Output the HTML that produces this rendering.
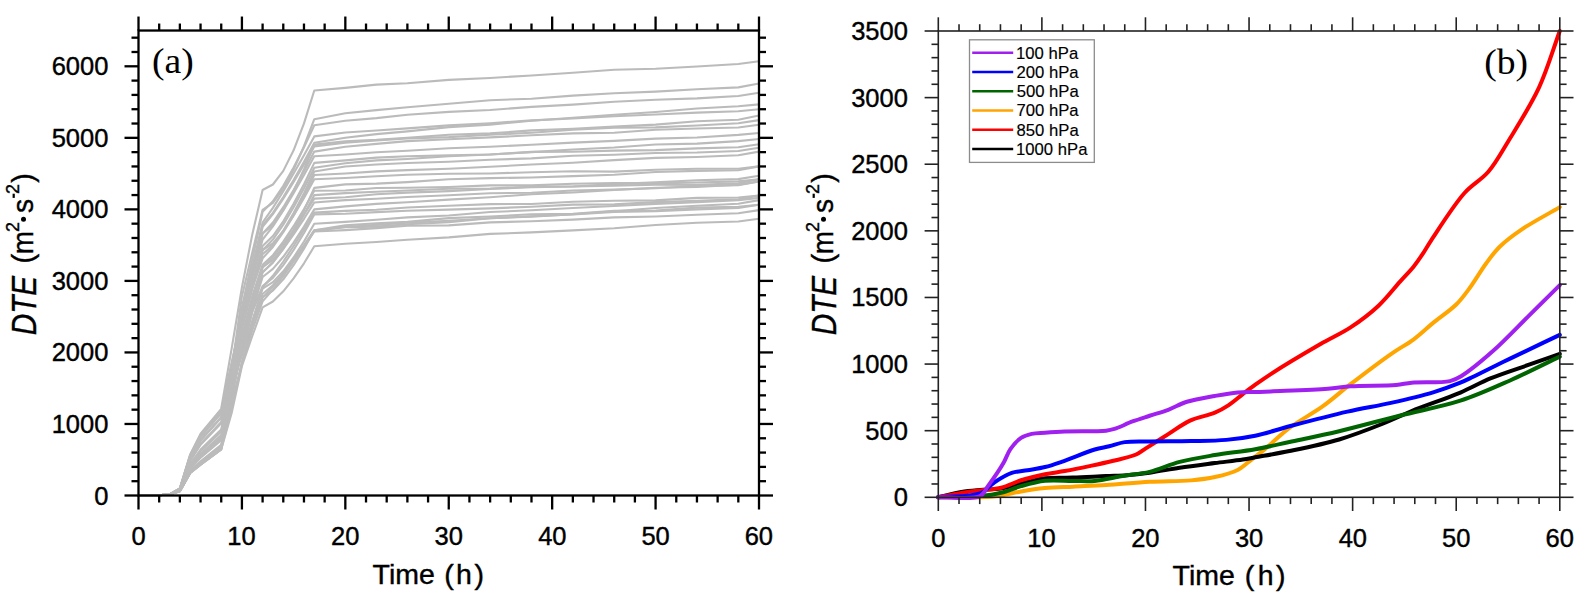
<!DOCTYPE html><html><head><meta charset="utf-8"><style>html,body{margin:0;padding:0;background:#fff;overflow:hidden}svg{display:block;}text{font-family:"Liberation Sans",sans-serif;fill:#000;stroke:#000;stroke-width:0.4px}.sr{font-family:"Liberation Serif",serif;stroke-width:0}</style></head><body>
<svg width="1594" height="605" viewBox="0 0 1594 605">
<rect width="1594" height="605" fill="#fff"/>
<g fill="none" stroke="#bbbbbb" stroke-width="2.1" stroke-linejoin="round">
<path d="M138.5,495.5 L159.2,495.3 L169.5,494.4 L179.9,488.3 L190.2,454.4 L200.6,433.6 L221.2,408.8 L231.6,348.9 L241.9,287.5 L252.3,234.4 L262.6,190.0 L272.9,184.5 L283.3,170.9 L293.6,150.3 L304.0,123.4 L314.3,90.5 L345.3,87.9 L376.4,84.6 L407.4,83.2 L448.8,79.9 L490.1,78.0 L531.5,75.5 L572.9,72.7 L614.2,69.8 L655.6,68.8 L697.0,66.5 L738.3,64.0 L759.0,61.3"/>
<path d="M138.5,495.5 L159.2,495.3 L169.5,494.4 L179.9,490.0 L190.2,464.9 L200.6,451.3 L221.2,431.8 L231.6,370.6 L241.9,296.4 L252.3,252.5 L262.6,209.8 L272.9,202.8 L283.3,188.6 L293.6,169.5 L304.0,146.2 L314.3,119.2 L345.3,113.2 L376.4,110.1 L407.4,107.3 L448.8,103.8 L490.1,100.2 L531.5,98.7 L572.9,95.6 L614.2,93.3 L655.6,91.6 L697.0,89.3 L738.3,87.4 L759.0,83.5"/>
<path d="M138.5,495.5 L159.2,495.3 L169.5,494.4 L179.9,491.2 L190.2,472.8 L200.6,464.5 L221.2,449.1 L231.6,383.0 L241.9,307.4 L252.3,259.4 L262.6,211.8 L272.9,201.3 L283.3,185.8 L293.6,167.5 L304.0,147.2 L314.3,125.2 L345.3,120.7 L376.4,118.1 L407.4,114.7 L448.8,111.9 L490.1,110.0 L531.5,106.9 L572.9,104.6 L614.2,101.7 L655.6,99.8 L697.0,98.4 L738.3,96.0 L759.0,92.8"/>
<path d="M138.5,495.5 L159.2,495.3 L169.5,494.4 L179.9,488.4 L190.2,455.0 L200.6,434.7 L221.2,410.2 L231.6,362.7 L241.9,316.6 L252.3,269.2 L262.6,225.2 L272.9,212.8 L283.3,197.1 L293.6,180.0 L304.0,161.8 L314.3,142.8 L345.3,137.7 L376.4,134.1 L407.4,131.4 L448.8,127.1 L490.1,124.6 L531.5,120.7 L572.9,117.7 L614.2,114.7 L655.6,112.0 L697.0,108.5 L738.3,106.3 L759.0,104.4"/>
<path d="M138.5,495.5 L159.2,495.3 L169.5,494.4 L179.9,488.6 L190.2,456.2 L200.6,436.7 L221.2,412.8 L231.6,364.8 L241.9,314.5 L252.3,268.3 L262.6,233.5 L272.9,224.9 L283.3,210.0 L293.6,191.1 L304.0,169.2 L314.3,144.6 L345.3,141.2 L376.4,139.9 L407.4,137.7 L448.8,134.7 L490.1,133.4 L531.5,130.4 L572.9,128.7 L614.2,126.6 L655.6,124.6 L697.0,121.3 L738.3,119.8 L759.0,115.5"/>
<path d="M138.5,495.5 L159.2,495.3 L169.5,494.4 L179.9,491.1 L190.2,472.5 L200.6,464.0 L221.2,448.3 L231.6,387.8 L241.9,317.4 L252.3,271.7 L262.6,226.9 L272.9,214.1 L283.3,198.6 L293.6,181.9 L304.0,164.5 L314.3,146.4 L345.3,142.6 L376.4,140.5 L407.4,138.4 L448.8,137.1 L490.1,134.7 L531.5,132.7 L572.9,129.8 L614.2,127.8 L655.6,127.4 L697.0,125.5 L738.3,123.3 L759.0,120.1"/>
<path d="M138.5,495.5 L159.2,495.3 L169.5,494.4 L179.9,491.0 L190.2,471.6 L200.6,462.5 L221.2,446.4 L231.6,387.9 L241.9,320.4 L252.3,274.3 L262.6,233.8 L272.9,222.5 L283.3,207.2 L293.6,190.0 L304.0,171.3 L314.3,151.6 L345.3,146.8 L376.4,143.9 L407.4,141.1 L448.8,139.2 L490.1,137.4 L531.5,135.3 L572.9,133.4 L614.2,132.8 L655.6,129.8 L697.0,128.5 L738.3,127.5 L759.0,124.7"/>
<path d="M138.5,495.5 L159.2,495.3 L169.5,494.4 L179.9,489.0 L190.2,458.4 L200.6,440.3 L221.2,417.5 L231.6,370.7 L241.9,318.1 L252.3,278.1 L262.6,239.5 L272.9,226.4 L283.3,210.5 L293.6,193.2 L304.0,175.1 L314.3,156.2 L345.3,154.5 L376.4,152.3 L407.4,150.7 L448.8,148.2 L490.1,146.7 L531.5,144.8 L572.9,142.6 L614.2,140.9 L655.6,138.6 L697.0,137.5 L738.3,134.9 L759.0,133.0"/>
<path d="M138.5,495.5 L159.2,495.3 L169.5,494.4 L179.9,489.0 L190.2,458.4 L200.6,440.3 L221.2,417.5 L231.6,373.5 L241.9,326.1 L252.3,287.7 L262.6,250.2 L272.9,239.6 L283.3,224.6 L293.6,207.2 L304.0,188.2 L314.3,167.8 L345.3,163.2 L376.4,160.4 L407.4,159.0 L448.8,156.3 L490.1,154.5 L531.5,152.1 L572.9,149.5 L614.2,147.5 L655.6,144.5 L697.0,143.6 L738.3,141.1 L759.0,139.0"/>
<path d="M138.5,495.5 L159.2,495.3 L169.5,494.4 L179.9,491.2 L190.2,472.9 L200.6,464.7 L221.2,449.3 L231.6,394.6 L241.9,325.2 L252.3,286.9 L262.6,254.2 L272.9,245.1 L283.3,230.7 L293.6,213.1 L304.0,193.3 L314.3,171.5 L345.3,166.5 L376.4,164.5 L407.4,163.0 L448.8,161.7 L490.1,159.7 L531.5,158.4 L572.9,155.8 L614.2,154.8 L655.6,153.0 L697.0,152.5 L738.3,151.0 L759.0,147.8"/>
<path d="M138.5,495.5 L159.2,495.3 L169.5,494.4 L179.9,491.0 L190.2,471.7 L200.6,462.7 L221.2,446.6 L231.6,393.8 L241.9,328.4 L252.3,285.6 L262.6,250.0 L272.9,243.3 L283.3,231.1 L293.6,215.2 L304.0,196.4 L314.3,175.0 L345.3,173.5 L376.4,171.4 L407.4,170.1 L448.8,168.7 L490.1,166.8 L531.5,164.5 L572.9,162.7 L614.2,160.1 L655.6,157.9 L697.0,157.0 L738.3,155.2 L759.0,151.6"/>
<path d="M138.5,495.5 L159.2,495.3 L169.5,494.4 L179.9,488.7 L190.2,456.4 L200.6,437.1 L221.2,413.3 L231.6,373.7 L241.9,329.2 L252.3,288.6 L262.6,258.3 L272.9,247.0 L283.3,232.2 L293.6,215.7 L304.0,198.0 L314.3,179.3 L345.3,178.0 L376.4,176.2 L407.4,174.8 L448.8,173.8 L490.1,173.5 L531.5,172.3 L572.9,171.2 L614.2,171.6 L655.6,169.8 L697.0,168.7 L738.3,168.7 L759.0,166.4"/>
<path d="M138.5,495.5 L159.2,495.3 L169.5,494.4 L179.9,489.4 L190.2,461.0 L200.6,444.7 L221.2,423.3 L231.6,382.2 L241.9,336.0 L252.3,298.1 L262.6,267.1 L272.9,259.9 L283.3,247.0 L293.6,230.2 L304.0,210.4 L314.3,187.9 L345.3,184.4 L376.4,183.6 L407.4,182.1 L448.8,179.3 L490.1,178.1 L531.5,177.5 L572.9,176.1 L614.2,174.7 L655.6,172.0 L697.0,170.9 L738.3,170.2 L759.0,166.4"/>
<path d="M138.5,495.5 L159.2,495.3 L169.5,494.4 L179.9,491.1 L190.2,472.4 L200.6,463.8 L221.2,448.1 L231.6,398.7 L241.9,336.9 L252.3,295.9 L262.6,264.7 L272.9,255.2 L283.3,241.7 L293.6,226.2 L304.0,209.1 L314.3,190.8 L345.3,190.5 L376.4,188.0 L407.4,187.7 L448.8,187.0 L490.1,185.4 L531.5,185.4 L572.9,183.8 L614.2,183.1 L655.6,183.4 L697.0,182.5 L738.3,181.4 L759.0,179.3"/>
<path d="M138.5,495.5 L159.2,495.3 L169.5,494.4 L179.9,490.9 L190.2,470.9 L200.6,461.3 L221.2,444.9 L231.6,397.7 L241.9,344.3 L252.3,301.9 L262.6,272.0 L272.9,262.7 L283.3,248.8 L293.6,232.6 L304.0,214.6 L314.3,195.1 L345.3,193.1 L376.4,191.7 L407.4,190.5 L448.8,188.8 L490.1,188.5 L531.5,186.7 L572.9,186.5 L614.2,185.6 L655.6,184.8 L697.0,184.9 L738.3,183.3 L759.0,179.3"/>
<path d="M138.5,495.5 L159.2,495.3 L169.5,494.4 L179.9,490.6 L190.2,468.7 L200.6,457.6 L221.2,440.1 L231.6,396.5 L241.9,348.9 L252.3,311.4 L262.6,272.6 L272.9,262.2 L283.3,248.9 L293.6,234.3 L304.0,218.8 L314.3,202.5 L345.3,200.1 L376.4,198.8 L407.4,197.0 L448.8,195.2 L490.1,193.2 L531.5,192.8 L572.9,190.5 L614.2,189.6 L655.6,188.2 L697.0,186.0 L738.3,185.1 L759.0,181.5"/>
<path d="M138.5,495.5 L159.2,495.3 L169.5,494.4 L179.9,490.4 L190.2,467.5 L200.6,455.6 L221.2,437.4 L231.6,396.5 L241.9,349.4 L252.3,309.8 L262.6,277.0 L272.9,268.9 L283.3,256.8 L293.6,242.5 L304.0,226.6 L314.3,209.4 L345.3,206.4 L376.4,203.9 L407.4,202.2 L448.8,199.6 L490.1,197.3 L531.5,194.2 L572.9,192.5 L614.2,190.0 L655.6,187.8 L697.0,187.0 L738.3,184.6 L759.0,181.5"/>
<path d="M138.5,495.5 L159.2,495.3 L169.5,494.4 L179.9,490.2 L190.2,466.4 L200.6,453.8 L221.2,435.1 L231.6,395.8 L241.9,347.9 L252.3,311.2 L262.6,287.3 L272.9,275.8 L283.3,261.5 L293.6,246.0 L304.0,229.6 L314.3,212.6 L345.3,210.9 L376.4,209.8 L407.4,207.5 L448.8,205.7 L490.1,204.1 L531.5,204.0 L572.9,201.8 L614.2,200.7 L655.6,200.4 L697.0,197.9 L738.3,197.5 L759.0,195.5"/>
<path d="M138.5,495.5 L159.2,495.3 L169.5,494.4 L179.9,488.5 L190.2,455.4 L200.6,435.4 L221.2,411.1 L231.6,381.0 L241.9,355.1 L252.3,311.5 L262.6,286.1 L272.9,277.9 L283.3,265.2 L293.6,250.0 L304.0,233.0 L314.3,214.4 L345.3,213.7 L376.4,212.1 L407.4,210.8 L448.8,209.6 L490.1,208.4 L531.5,206.7 L572.9,204.6 L614.2,204.4 L655.6,202.1 L697.0,200.9 L738.3,199.4 L759.0,195.5"/>
<path d="M138.5,495.5 L159.2,495.3 L169.5,494.4 L179.9,491.2 L190.2,473.0 L200.6,464.7 L221.2,449.3 L231.6,409.2 L241.9,362.9 L252.3,324.4 L262.6,297.6 L272.9,286.7 L283.3,273.7 L293.6,259.8 L304.0,245.2 L314.3,230.2 L345.3,227.1 L376.4,226.6 L407.4,224.3 L448.8,222.1 L490.1,218.2 L531.5,216.6 L572.9,214.3 L614.2,211.3 L655.6,208.0 L697.0,205.7 L738.3,203.8 L759.0,200.1"/>
<path d="M138.5,495.5 L159.2,495.3 L169.5,494.4 L179.9,491.0 L190.2,471.3 L200.6,462.0 L221.2,445.8 L231.6,407.0 L241.9,364.4 L252.3,322.0 L262.6,297.1 L272.9,290.6 L283.3,279.4 L293.6,265.2 L304.0,248.7 L314.3,230.2 L345.3,225.4 L376.4,223.3 L407.4,221.9 L448.8,218.1 L490.1,216.5 L531.5,214.3 L572.9,213.7 L614.2,210.7 L655.6,210.5 L697.0,207.6 L738.3,206.7 L759.0,204.8"/>
<path d="M138.5,495.5 L159.2,495.3 L169.5,494.4 L179.9,490.5 L190.2,468.5 L200.6,457.2 L221.2,439.6 L231.6,403.2 L241.9,363.1 L252.3,325.4 L262.6,294.0 L272.9,285.3 L283.3,273.6 L293.6,260.4 L304.0,246.0 L314.3,230.8 L345.3,227.0 L376.4,224.9 L407.4,222.8 L448.8,220.7 L490.1,218.3 L531.5,216.3 L572.9,214.5 L614.2,212.0 L655.6,211.3 L697.0,209.4 L738.3,207.9 L759.0,204.8"/>
<path d="M138.5,495.5 L159.2,495.3 L169.5,494.4 L179.9,491.1 L190.2,472.1 L200.6,463.3 L221.2,447.5 L231.6,408.4 L241.9,363.5 L252.3,330.2 L262.6,301.4 L272.9,289.6 L283.3,276.1 L293.6,261.7 L304.0,246.8 L314.3,231.5 L345.3,230.1 L376.4,228.1 L407.4,225.8 L448.8,225.4 L490.1,222.4 L531.5,221.3 L572.9,219.6 L614.2,217.4 L655.6,216.5 L697.0,214.8 L738.3,213.2 L759.0,210.1"/>
<path d="M138.5,495.5 L159.2,495.3 L169.5,494.4 L179.9,491.2 L190.2,473.0 L200.6,464.7 L221.2,449.4 L231.6,413.2 L241.9,366.2 L252.3,336.0 L262.6,307.4 L272.9,301.5 L283.3,291.3 L293.6,278.3 L304.0,263.3 L314.3,246.3 L345.3,243.7 L376.4,242.0 L407.4,239.8 L448.8,237.4 L490.1,233.9 L531.5,232.4 L572.9,230.4 L614.2,228.3 L655.6,225.0 L697.0,222.8 L738.3,221.5 L759.0,218.7"/>
<path d="M138.5,495.5 L159.2,495.3 L169.5,494.4 L179.9,489.8 L190.2,463.9 L200.6,449.6 L221.2,429.6 L231.6,380.0 L241.9,326.2 L252.3,283.7 L262.6,245.9 L272.9,236.1 L283.3,221.3 L293.6,203.8 L304.0,184.2 L314.3,162.9 L345.3,160.4 L376.4,157.6 L407.4,156.2 L448.8,155.4 L490.1,154.5 L531.5,151.9 L572.9,151.8 L614.2,150.6 L655.6,150.1 L697.0,148.4 L738.3,147.2 L759.0,144.3"/>
<path d="M138.5,495.5 L159.2,495.3 L169.5,494.4 L179.9,490.5 L190.2,468.1 L200.6,456.6 L221.2,438.8 L231.6,379.3 L241.9,309.7 L252.3,266.8 L262.6,222.5 L272.9,207.9 L283.3,191.2 L293.6,173.5 L304.0,155.2 L314.3,136.4 L345.3,132.5 L376.4,130.5 L407.4,128.4 L448.8,125.4 L490.1,123.2 L531.5,120.4 L572.9,118.5 L614.2,116.2 L655.6,114.5 L697.0,112.6 L738.3,111.2 L759.0,109.2"/>
<path d="M138.5,495.5 L159.2,495.3 L169.5,494.4 L179.9,488.9 L190.2,458.2 L200.6,440.1 L221.2,417.2 L231.6,381.0 L241.9,345.0 L252.3,306.3 L262.6,267.6 L272.9,257.2 L283.3,244.1 L293.6,229.8 L304.0,214.5 L314.3,198.6 L345.3,197.3 L376.4,194.3 L407.4,192.6 L448.8,191.1 L490.1,189.0 L531.5,187.1 L572.9,186.5 L614.2,184.1 L655.6,182.4 L697.0,180.2 L738.3,179.1 L759.0,175.7"/>
<path d="M138.5,495.5 L159.2,495.3 L169.5,494.4 L179.9,489.3 L190.2,460.4 L200.6,443.7 L221.2,421.9 L231.6,390.2 L241.9,355.0 L252.3,320.5 L262.6,288.6 L272.9,282.2 L283.3,271.3 L293.6,257.5 L304.0,241.5 L314.3,223.7 L345.3,221.9 L376.4,219.7 L407.4,217.4 L448.8,215.5 L490.1,212.0 L531.5,210.3 L572.9,208.0 L614.2,206.0 L655.6,203.9 L697.0,202.2 L738.3,200.3 L759.0,197.9"/>
</g>
<g stroke="#000" stroke-width="2.3" fill="none" stroke-linecap="butt">
<rect x="138.5" y="30.53" width="620.50" height="464.97"/>
<line x1="138.50" y1="495.5" x2="138.50" y2="509.5"/>
<line x1="138.50" y1="30.53" x2="138.50" y2="16.53"/>
<line x1="159.18" y1="495.5" x2="159.18" y2="502.5"/>
<line x1="159.18" y1="30.53" x2="159.18" y2="23.53"/>
<line x1="179.87" y1="495.5" x2="179.87" y2="502.5"/>
<line x1="179.87" y1="30.53" x2="179.87" y2="23.53"/>
<line x1="200.55" y1="495.5" x2="200.55" y2="502.5"/>
<line x1="200.55" y1="30.53" x2="200.55" y2="23.53"/>
<line x1="221.23" y1="495.5" x2="221.23" y2="502.5"/>
<line x1="221.23" y1="30.53" x2="221.23" y2="23.53"/>
<line x1="241.92" y1="495.5" x2="241.92" y2="509.5"/>
<line x1="241.92" y1="30.53" x2="241.92" y2="16.53"/>
<line x1="262.60" y1="495.5" x2="262.60" y2="502.5"/>
<line x1="262.60" y1="30.53" x2="262.60" y2="23.53"/>
<line x1="283.28" y1="495.5" x2="283.28" y2="502.5"/>
<line x1="283.28" y1="30.53" x2="283.28" y2="23.53"/>
<line x1="303.97" y1="495.5" x2="303.97" y2="502.5"/>
<line x1="303.97" y1="30.53" x2="303.97" y2="23.53"/>
<line x1="324.65" y1="495.5" x2="324.65" y2="502.5"/>
<line x1="324.65" y1="30.53" x2="324.65" y2="23.53"/>
<line x1="345.33" y1="495.5" x2="345.33" y2="509.5"/>
<line x1="345.33" y1="30.53" x2="345.33" y2="16.53"/>
<line x1="366.02" y1="495.5" x2="366.02" y2="502.5"/>
<line x1="366.02" y1="30.53" x2="366.02" y2="23.53"/>
<line x1="386.70" y1="495.5" x2="386.70" y2="502.5"/>
<line x1="386.70" y1="30.53" x2="386.70" y2="23.53"/>
<line x1="407.38" y1="495.5" x2="407.38" y2="502.5"/>
<line x1="407.38" y1="30.53" x2="407.38" y2="23.53"/>
<line x1="428.07" y1="495.5" x2="428.07" y2="502.5"/>
<line x1="428.07" y1="30.53" x2="428.07" y2="23.53"/>
<line x1="448.75" y1="495.5" x2="448.75" y2="509.5"/>
<line x1="448.75" y1="30.53" x2="448.75" y2="16.53"/>
<line x1="469.43" y1="495.5" x2="469.43" y2="502.5"/>
<line x1="469.43" y1="30.53" x2="469.43" y2="23.53"/>
<line x1="490.12" y1="495.5" x2="490.12" y2="502.5"/>
<line x1="490.12" y1="30.53" x2="490.12" y2="23.53"/>
<line x1="510.80" y1="495.5" x2="510.80" y2="502.5"/>
<line x1="510.80" y1="30.53" x2="510.80" y2="23.53"/>
<line x1="531.48" y1="495.5" x2="531.48" y2="502.5"/>
<line x1="531.48" y1="30.53" x2="531.48" y2="23.53"/>
<line x1="552.17" y1="495.5" x2="552.17" y2="509.5"/>
<line x1="552.17" y1="30.53" x2="552.17" y2="16.53"/>
<line x1="572.85" y1="495.5" x2="572.85" y2="502.5"/>
<line x1="572.85" y1="30.53" x2="572.85" y2="23.53"/>
<line x1="593.53" y1="495.5" x2="593.53" y2="502.5"/>
<line x1="593.53" y1="30.53" x2="593.53" y2="23.53"/>
<line x1="614.22" y1="495.5" x2="614.22" y2="502.5"/>
<line x1="614.22" y1="30.53" x2="614.22" y2="23.53"/>
<line x1="634.90" y1="495.5" x2="634.90" y2="502.5"/>
<line x1="634.90" y1="30.53" x2="634.90" y2="23.53"/>
<line x1="655.58" y1="495.5" x2="655.58" y2="509.5"/>
<line x1="655.58" y1="30.53" x2="655.58" y2="16.53"/>
<line x1="676.27" y1="495.5" x2="676.27" y2="502.5"/>
<line x1="676.27" y1="30.53" x2="676.27" y2="23.53"/>
<line x1="696.95" y1="495.5" x2="696.95" y2="502.5"/>
<line x1="696.95" y1="30.53" x2="696.95" y2="23.53"/>
<line x1="717.63" y1="495.5" x2="717.63" y2="502.5"/>
<line x1="717.63" y1="30.53" x2="717.63" y2="23.53"/>
<line x1="738.32" y1="495.5" x2="738.32" y2="502.5"/>
<line x1="738.32" y1="30.53" x2="738.32" y2="23.53"/>
<line x1="759.00" y1="495.5" x2="759.00" y2="509.5"/>
<line x1="759.00" y1="30.53" x2="759.00" y2="16.53"/>
<line x1="138.5" y1="495.50" x2="124.5" y2="495.50"/>
<line x1="759.00" y1="495.50" x2="773.00" y2="495.50"/>
<line x1="138.5" y1="481.19" x2="131.5" y2="481.19"/>
<line x1="759.00" y1="481.19" x2="766.00" y2="481.19"/>
<line x1="138.5" y1="466.89" x2="131.5" y2="466.89"/>
<line x1="759.00" y1="466.89" x2="766.00" y2="466.89"/>
<line x1="138.5" y1="452.58" x2="131.5" y2="452.58"/>
<line x1="759.00" y1="452.58" x2="766.00" y2="452.58"/>
<line x1="138.5" y1="438.27" x2="131.5" y2="438.27"/>
<line x1="759.00" y1="438.27" x2="766.00" y2="438.27"/>
<line x1="138.5" y1="423.97" x2="124.5" y2="423.97"/>
<line x1="759.00" y1="423.97" x2="773.00" y2="423.97"/>
<line x1="138.5" y1="409.66" x2="131.5" y2="409.66"/>
<line x1="759.00" y1="409.66" x2="766.00" y2="409.66"/>
<line x1="138.5" y1="395.35" x2="131.5" y2="395.35"/>
<line x1="759.00" y1="395.35" x2="766.00" y2="395.35"/>
<line x1="138.5" y1="381.05" x2="131.5" y2="381.05"/>
<line x1="759.00" y1="381.05" x2="766.00" y2="381.05"/>
<line x1="138.5" y1="366.74" x2="131.5" y2="366.74"/>
<line x1="759.00" y1="366.74" x2="766.00" y2="366.74"/>
<line x1="138.5" y1="352.43" x2="124.5" y2="352.43"/>
<line x1="759.00" y1="352.43" x2="773.00" y2="352.43"/>
<line x1="138.5" y1="338.13" x2="131.5" y2="338.13"/>
<line x1="759.00" y1="338.13" x2="766.00" y2="338.13"/>
<line x1="138.5" y1="323.82" x2="131.5" y2="323.82"/>
<line x1="759.00" y1="323.82" x2="766.00" y2="323.82"/>
<line x1="138.5" y1="309.51" x2="131.5" y2="309.51"/>
<line x1="759.00" y1="309.51" x2="766.00" y2="309.51"/>
<line x1="138.5" y1="295.21" x2="131.5" y2="295.21"/>
<line x1="759.00" y1="295.21" x2="766.00" y2="295.21"/>
<line x1="138.5" y1="280.90" x2="124.5" y2="280.90"/>
<line x1="759.00" y1="280.90" x2="773.00" y2="280.90"/>
<line x1="138.5" y1="266.59" x2="131.5" y2="266.59"/>
<line x1="759.00" y1="266.59" x2="766.00" y2="266.59"/>
<line x1="138.5" y1="252.29" x2="131.5" y2="252.29"/>
<line x1="759.00" y1="252.29" x2="766.00" y2="252.29"/>
<line x1="138.5" y1="237.98" x2="131.5" y2="237.98"/>
<line x1="759.00" y1="237.98" x2="766.00" y2="237.98"/>
<line x1="138.5" y1="223.67" x2="131.5" y2="223.67"/>
<line x1="759.00" y1="223.67" x2="766.00" y2="223.67"/>
<line x1="138.5" y1="209.37" x2="124.5" y2="209.37"/>
<line x1="759.00" y1="209.37" x2="773.00" y2="209.37"/>
<line x1="138.5" y1="195.06" x2="131.5" y2="195.06"/>
<line x1="759.00" y1="195.06" x2="766.00" y2="195.06"/>
<line x1="138.5" y1="180.75" x2="131.5" y2="180.75"/>
<line x1="759.00" y1="180.75" x2="766.00" y2="180.75"/>
<line x1="138.5" y1="166.45" x2="131.5" y2="166.45"/>
<line x1="759.00" y1="166.45" x2="766.00" y2="166.45"/>
<line x1="138.5" y1="152.14" x2="131.5" y2="152.14"/>
<line x1="759.00" y1="152.14" x2="766.00" y2="152.14"/>
<line x1="138.5" y1="137.83" x2="124.5" y2="137.83"/>
<line x1="759.00" y1="137.83" x2="773.00" y2="137.83"/>
<line x1="138.5" y1="123.53" x2="131.5" y2="123.53"/>
<line x1="759.00" y1="123.53" x2="766.00" y2="123.53"/>
<line x1="138.5" y1="109.22" x2="131.5" y2="109.22"/>
<line x1="759.00" y1="109.22" x2="766.00" y2="109.22"/>
<line x1="138.5" y1="94.91" x2="131.5" y2="94.91"/>
<line x1="759.00" y1="94.91" x2="766.00" y2="94.91"/>
<line x1="138.5" y1="80.61" x2="131.5" y2="80.61"/>
<line x1="759.00" y1="80.61" x2="766.00" y2="80.61"/>
<line x1="138.5" y1="66.30" x2="124.5" y2="66.30"/>
<line x1="759.00" y1="66.30" x2="773.00" y2="66.30"/>
<line x1="138.5" y1="51.99" x2="131.5" y2="51.99"/>
<line x1="759.00" y1="51.99" x2="766.00" y2="51.99"/>
<line x1="138.5" y1="37.69" x2="131.5" y2="37.69"/>
<line x1="759.00" y1="37.69" x2="766.00" y2="37.69"/>
</g>
<text x="94.21" y="504.50" font-size="25.5" text-anchor="start">0</text>
<text x="51.67" y="432.97" font-size="25.5" text-anchor="start">1000</text>
<text x="51.67" y="361.43" font-size="25.5" text-anchor="start">2000</text>
<text x="51.67" y="289.90" font-size="25.5" text-anchor="start">3000</text>
<text x="51.67" y="218.37" font-size="25.5" text-anchor="start">4000</text>
<text x="51.67" y="146.83" font-size="25.5" text-anchor="start">5000</text>
<text x="51.67" y="75.30" font-size="25.5" text-anchor="start">6000</text>
<text x="131.41" y="545.30" font-size="25.5" text-anchor="start">0</text>
<text x="227.26" y="545.30" font-size="25.5" text-anchor="start">10</text>
<text x="331.01" y="545.30" font-size="25.5" text-anchor="start">20</text>
<text x="434.58" y="545.30" font-size="25.5" text-anchor="start">30</text>
<text x="538.19" y="545.30" font-size="25.5" text-anchor="start">40</text>
<text x="641.39" y="545.30" font-size="25.5" text-anchor="start">50</text>
<text x="744.67" y="545.30" font-size="25.5" text-anchor="start">60</text>
<text x="372.56" y="583.80" font-size="28.5" text-anchor="start">Time</text>
<text x="444.33" y="583.80" font-size="28.5" text-anchor="start">(</text>
<text x="455.92" y="583.80" font-size="28.5" text-anchor="start">h</text>
<text x="474.38" y="583.80" font-size="28.5" text-anchor="start">)</text>
<text transform="translate(152.05,73.00) scale(1.055,1)" font-size="35.6" text-anchor="start" class="sr">(a)</text>
<g transform="translate(0,0) rotate(-90)">
<text transform="translate(-335.31,36.00) scale(0.83,1)" font-size="35.8" text-anchor="start" font-style="italic">DTE</text>
<text x="-263.50" y="32.70" font-size="29" text-anchor="start">(</text>
<text transform="translate(-254.25,32.70) scale(0.96,1)" font-size="29" text-anchor="start">m</text>
<text x="-231.91" y="19.00" font-size="18" text-anchor="start">2</text>
<text transform="translate(-212.98,32.70) scale(0.97,1)" font-size="29" text-anchor="start">s</text>
<text x="-194.01" y="19.00" font-size="18" text-anchor="start">2</text>
<text x="-182.77" y="32.70" font-size="29" text-anchor="start">)</text>
</g>
<g transform="translate(0,0)"><circle cx="23.5" cy="219.3" r="2.5" fill="#000"/><rect x="12.6" y="193.7" width="2.2" height="4.2" fill="#000"/></g>
<defs><clipPath id="cb"><rect x="930" y="20" width="640" height="485"/></clipPath></defs>
<g fill="none" stroke-width="4" stroke-linejoin="round" stroke-linecap="round" clip-path="url(#cb)">
<path d="M938.30,497.30 C952.21,497.30 968.48,497.81 980.04,497.30 C988.28,496.94 994.27,496.43 1001.18,495.43 C1007.93,494.46 1014.11,492.62 1021.06,491.44 C1028.65,490.15 1036.69,488.90 1044.99,488.11 C1053.93,487.25 1063.24,487.13 1072.96,486.64 C1083.54,486.11 1094.31,485.76 1106.11,485.04 C1119.63,484.22 1135.28,482.63 1149.61,481.85 C1163.58,481.09 1179.15,481.42 1191.04,480.38 C1200.10,479.59 1207.08,478.79 1214.87,477.05 C1222.62,475.32 1231.16,473.31 1237.66,469.99 C1243.33,467.09 1247.53,462.62 1252.16,459.06 C1256.48,455.75 1259.79,453.28 1264.59,449.34 C1271.51,443.65 1280.31,434.74 1289.45,427.89 C1299.47,420.38 1312.19,413.92 1322.59,406.44 C1332.50,399.32 1340.32,392.08 1350.56,384.19 C1362.73,374.82 1379.29,362.20 1390.96,354.08 C1399.53,348.12 1406.59,344.61 1413.75,339.29 C1420.72,334.11 1426.58,328.25 1433.43,322.64 C1440.70,316.67 1449.89,310.77 1456.22,304.52 C1461.63,299.17 1465.11,294.18 1469.68,288.00 C1475.09,280.68 1480.85,270.53 1486.26,263.22 C1490.83,257.03 1494.35,251.96 1499.72,246.70 C1505.83,240.70 1512.98,235.43 1521.47,229.64 C1532.25,222.30 1547.02,214.63 1559.80,207.13" stroke="#ffa500"/>
<path d="M938.30,497.30 C946.03,495.52 954.17,493.20 961.50,491.97 C968.00,490.88 973.66,490.52 980.04,489.97 C986.85,489.39 994.29,489.72 1001.18,488.64 C1007.96,487.57 1014.11,485.24 1021.06,483.58 C1028.66,481.77 1036.65,479.27 1044.99,478.25 C1053.90,477.16 1063.24,477.93 1072.96,477.58 C1083.54,477.20 1096.35,476.41 1106.11,475.98 C1113.82,475.65 1119.76,475.71 1126.82,475.18 C1134.25,474.63 1141.51,473.77 1149.61,472.65 C1158.95,471.37 1169.23,469.27 1179.65,467.72 C1190.91,466.05 1203.80,464.48 1214.87,463.06 C1224.72,461.80 1235.39,460.73 1242.84,459.60 C1247.82,458.83 1250.10,458.28 1255.26,457.33 C1263.84,455.77 1277.02,453.65 1289.45,451.07 C1304.51,447.94 1323.28,444.18 1339.17,439.48 C1354.29,435.00 1369.71,428.92 1382.67,423.76 C1393.39,419.49 1400.70,415.58 1411.68,411.10 C1425.75,405.36 1446.18,398.60 1460.36,392.58 C1471.68,387.78 1479.59,382.91 1490.40,378.46 C1502.52,373.47 1517.52,368.82 1529.76,364.47 C1540.45,360.68 1549.79,357.37 1559.80,353.81" stroke="#000000"/>
<path d="M938.30,497.30 C952.21,496.90 968.50,497.17 980.04,496.10 C988.30,495.33 994.31,494.45 1001.18,492.77 C1007.98,491.11 1014.07,488.05 1021.06,486.11 C1028.62,484.01 1036.65,481.68 1044.99,480.78 C1053.90,479.82 1064.22,480.89 1072.96,480.91 C1080.66,480.93 1087.04,481.58 1094.71,480.91 C1103.48,480.15 1113.44,477.51 1122.68,475.98 C1131.73,474.49 1140.48,474.05 1149.61,471.85 C1159.45,469.48 1169.14,464.61 1179.65,461.86 C1190.83,458.94 1202.70,457.12 1214.87,455.07 C1227.85,452.87 1242.40,451.49 1255.26,449.20 C1267.17,447.09 1276.99,444.67 1289.45,442.01 C1304.48,438.80 1321.78,435.34 1339.17,431.22 C1358.53,426.63 1379.98,420.61 1400.28,415.50 C1420.38,410.44 1441.49,406.84 1460.36,400.71 C1477.94,395.00 1493.62,387.75 1510.08,380.46 C1526.77,373.07 1543.23,364.56 1559.80,356.61" stroke="#006400"/>
<path d="M938.30,497.30 C946.03,495.88 954.19,494.23 961.50,493.04 C968.02,491.97 973.66,491.23 980.04,490.37 C986.85,489.45 994.33,489.40 1001.18,487.71 C1008.01,486.02 1014.06,482.43 1021.06,480.25 C1028.61,477.89 1037.37,475.82 1044.99,474.25 C1051.84,472.84 1057.74,472.30 1064.67,471.05 C1072.49,469.64 1081.43,467.83 1089.53,466.12 C1097.30,464.49 1104.66,462.96 1112.32,461.06 C1120.20,459.11 1130.17,457.16 1136.14,454.53 C1140.13,452.78 1141.68,451.07 1145.47,448.67 C1151.40,444.92 1160.73,438.87 1168.25,434.15 C1175.57,429.55 1182.28,424.26 1190.01,420.69 C1197.81,417.09 1207.96,415.66 1214.87,412.70 C1220.16,410.43 1223.88,408.29 1228.33,405.37 C1233.21,402.17 1238.17,397.62 1242.84,394.05 C1247.12,390.77 1250.86,387.89 1255.26,384.72 C1260.12,381.24 1264.08,378.39 1270.80,374.06 C1282.61,366.46 1305.96,352.51 1320.52,344.09 C1331.72,337.61 1340.96,333.77 1350.56,327.43 C1360.31,321.00 1370.11,313.58 1378.53,305.72 C1386.62,298.17 1393.89,288.46 1400.28,281.34 C1405.30,275.75 1409.91,271.16 1413.75,266.41 C1416.97,262.43 1419.26,259.08 1422.03,254.96 C1425.13,250.36 1427.18,246.33 1431.36,240.04 C1438.91,228.66 1453.67,205.13 1464.50,193.01 C1472.57,183.98 1481.16,180.16 1488.33,171.82 C1496.15,162.73 1501.69,152.04 1509.04,139.98 C1518.34,124.75 1530.61,105.56 1539.08,87.36 C1547.52,69.23 1552.89,49.79 1559.80,31.00" stroke="#ff0000"/>
<path d="M938.30,497.30 C952.21,496.01 970.10,497.35 980.04,493.44 C986.61,490.85 989.36,485.62 994.55,482.25 C999.90,478.76 1005.96,474.91 1011.74,472.92 C1016.98,471.11 1022.19,471.21 1027.59,470.25 C1033.26,469.26 1039.30,468.47 1044.99,467.06 C1050.63,465.66 1055.13,464.07 1061.56,461.86 C1070.75,458.71 1085.84,452.09 1094.71,449.47 C1100.46,447.77 1104.31,447.47 1109.21,446.27 C1114.32,445.03 1118.91,442.99 1124.75,442.14 C1132.01,441.10 1140.27,441.65 1149.61,441.48 C1161.67,441.26 1177.79,441.37 1191.04,441.08 C1203.26,440.81 1215.12,440.86 1226.26,439.88 C1236.42,438.98 1245.20,437.85 1255.26,435.75 C1266.51,433.41 1277.32,429.50 1290.48,426.02 C1307.18,421.61 1329.70,415.67 1347.45,411.63 C1362.89,408.13 1376.67,406.05 1390.96,402.84 C1404.97,399.69 1420.01,396.29 1432.39,392.58 C1442.71,389.49 1452.78,385.81 1460.36,382.72 C1465.72,380.54 1468.27,379.12 1473.83,376.46 C1483.00,372.07 1497.02,364.94 1510.08,358.61 C1525.33,351.22 1543.23,342.80 1559.80,334.89" stroke="#0000ff"/>
<path d="M938.30,497.30 C952.21,496.90 972.03,500.13 980.04,496.10 C984.47,493.88 985.23,489.71 987.92,486.11 C990.94,482.05 994.45,477.12 997.24,472.92 C999.70,469.22 1001.75,466.06 1003.87,462.26 C1006.16,458.15 1007.58,453.09 1010.39,449.07 C1013.28,444.95 1017.20,440.44 1021.06,437.88 C1024.36,435.69 1027.84,434.75 1031.63,433.88 C1035.76,432.93 1040.10,433.05 1044.99,432.68 C1050.92,432.24 1056.90,431.80 1064.67,431.49 C1075.94,431.03 1097.60,431.65 1106.11,430.69 C1109.95,430.25 1111.15,429.95 1114.39,428.95 C1119.32,427.44 1126.53,423.73 1132.52,421.49 C1138.26,419.35 1143.78,417.68 1149.61,415.76 C1155.68,413.77 1162.09,412.07 1168.25,409.77 C1174.53,407.42 1179.94,403.97 1186.90,401.78 C1195.17,399.17 1206.00,397.51 1214.87,395.91 C1222.83,394.47 1230.53,393.07 1237.66,392.45 C1243.88,391.91 1249.58,392.24 1255.26,392.05 C1260.61,391.87 1264.00,391.68 1270.80,391.38 C1283.83,390.81 1313.07,389.99 1327.77,388.85 C1337.09,388.13 1341.65,386.94 1350.56,386.32 C1363.13,385.44 1384.96,385.96 1396.14,384.99 C1402.70,384.42 1405.33,383.32 1411.68,382.72 C1421.60,381.80 1441.12,383.20 1450.00,381.12 C1455.07,379.94 1456.85,378.81 1461.40,376.06 C1469.64,371.07 1482.74,360.14 1493.51,350.62 C1505.51,340.00 1518.25,326.27 1529.76,314.91 C1540.25,304.56 1549.79,295.10 1559.80,285.20" stroke="#a020f0"/>
</g>
<g stroke="#222" stroke-width="1.6" fill="none" stroke-linecap="butt">
<rect x="938.3" y="31.00" width="621.50" height="466.30"/>
<line x1="938.30" y1="497.3" x2="938.30" y2="511.0"/>
<line x1="938.30" y1="31.00" x2="938.30" y2="17.30"/>
<line x1="959.02" y1="497.3" x2="959.02" y2="504.1"/>
<line x1="959.02" y1="31.00" x2="959.02" y2="24.20"/>
<line x1="979.73" y1="497.3" x2="979.73" y2="504.1"/>
<line x1="979.73" y1="31.00" x2="979.73" y2="24.20"/>
<line x1="1000.45" y1="497.3" x2="1000.45" y2="504.1"/>
<line x1="1000.45" y1="31.00" x2="1000.45" y2="24.20"/>
<line x1="1021.17" y1="497.3" x2="1021.17" y2="504.1"/>
<line x1="1021.17" y1="31.00" x2="1021.17" y2="24.20"/>
<line x1="1041.88" y1="497.3" x2="1041.88" y2="511.0"/>
<line x1="1041.88" y1="31.00" x2="1041.88" y2="17.30"/>
<line x1="1062.60" y1="497.3" x2="1062.60" y2="504.1"/>
<line x1="1062.60" y1="31.00" x2="1062.60" y2="24.20"/>
<line x1="1083.32" y1="497.3" x2="1083.32" y2="504.1"/>
<line x1="1083.32" y1="31.00" x2="1083.32" y2="24.20"/>
<line x1="1104.03" y1="497.3" x2="1104.03" y2="504.1"/>
<line x1="1104.03" y1="31.00" x2="1104.03" y2="24.20"/>
<line x1="1124.75" y1="497.3" x2="1124.75" y2="504.1"/>
<line x1="1124.75" y1="31.00" x2="1124.75" y2="24.20"/>
<line x1="1145.47" y1="497.3" x2="1145.47" y2="511.0"/>
<line x1="1145.47" y1="31.00" x2="1145.47" y2="17.30"/>
<line x1="1166.18" y1="497.3" x2="1166.18" y2="504.1"/>
<line x1="1166.18" y1="31.00" x2="1166.18" y2="24.20"/>
<line x1="1186.90" y1="497.3" x2="1186.90" y2="504.1"/>
<line x1="1186.90" y1="31.00" x2="1186.90" y2="24.20"/>
<line x1="1207.62" y1="497.3" x2="1207.62" y2="504.1"/>
<line x1="1207.62" y1="31.00" x2="1207.62" y2="24.20"/>
<line x1="1228.33" y1="497.3" x2="1228.33" y2="504.1"/>
<line x1="1228.33" y1="31.00" x2="1228.33" y2="24.20"/>
<line x1="1249.05" y1="497.3" x2="1249.05" y2="511.0"/>
<line x1="1249.05" y1="31.00" x2="1249.05" y2="17.30"/>
<line x1="1269.77" y1="497.3" x2="1269.77" y2="504.1"/>
<line x1="1269.77" y1="31.00" x2="1269.77" y2="24.20"/>
<line x1="1290.48" y1="497.3" x2="1290.48" y2="504.1"/>
<line x1="1290.48" y1="31.00" x2="1290.48" y2="24.20"/>
<line x1="1311.20" y1="497.3" x2="1311.20" y2="504.1"/>
<line x1="1311.20" y1="31.00" x2="1311.20" y2="24.20"/>
<line x1="1331.92" y1="497.3" x2="1331.92" y2="504.1"/>
<line x1="1331.92" y1="31.00" x2="1331.92" y2="24.20"/>
<line x1="1352.63" y1="497.3" x2="1352.63" y2="511.0"/>
<line x1="1352.63" y1="31.00" x2="1352.63" y2="17.30"/>
<line x1="1373.35" y1="497.3" x2="1373.35" y2="504.1"/>
<line x1="1373.35" y1="31.00" x2="1373.35" y2="24.20"/>
<line x1="1394.07" y1="497.3" x2="1394.07" y2="504.1"/>
<line x1="1394.07" y1="31.00" x2="1394.07" y2="24.20"/>
<line x1="1414.78" y1="497.3" x2="1414.78" y2="504.1"/>
<line x1="1414.78" y1="31.00" x2="1414.78" y2="24.20"/>
<line x1="1435.50" y1="497.3" x2="1435.50" y2="504.1"/>
<line x1="1435.50" y1="31.00" x2="1435.50" y2="24.20"/>
<line x1="1456.22" y1="497.3" x2="1456.22" y2="511.0"/>
<line x1="1456.22" y1="31.00" x2="1456.22" y2="17.30"/>
<line x1="1476.93" y1="497.3" x2="1476.93" y2="504.1"/>
<line x1="1476.93" y1="31.00" x2="1476.93" y2="24.20"/>
<line x1="1497.65" y1="497.3" x2="1497.65" y2="504.1"/>
<line x1="1497.65" y1="31.00" x2="1497.65" y2="24.20"/>
<line x1="1518.37" y1="497.3" x2="1518.37" y2="504.1"/>
<line x1="1518.37" y1="31.00" x2="1518.37" y2="24.20"/>
<line x1="1539.08" y1="497.3" x2="1539.08" y2="504.1"/>
<line x1="1539.08" y1="31.00" x2="1539.08" y2="24.20"/>
<line x1="1559.80" y1="497.3" x2="1559.80" y2="511.0"/>
<line x1="1559.80" y1="31.00" x2="1559.80" y2="17.30"/>
<line x1="938.3" y1="497.30" x2="924.5999999999999" y2="497.30"/>
<line x1="1559.80" y1="497.30" x2="1573.50" y2="497.30"/>
<line x1="938.3" y1="483.98" x2="931.5" y2="483.98"/>
<line x1="1559.80" y1="483.98" x2="1566.60" y2="483.98"/>
<line x1="938.3" y1="470.65" x2="931.5" y2="470.65"/>
<line x1="1559.80" y1="470.65" x2="1566.60" y2="470.65"/>
<line x1="938.3" y1="457.33" x2="931.5" y2="457.33"/>
<line x1="1559.80" y1="457.33" x2="1566.60" y2="457.33"/>
<line x1="938.3" y1="444.01" x2="931.5" y2="444.01"/>
<line x1="1559.80" y1="444.01" x2="1566.60" y2="444.01"/>
<line x1="938.3" y1="430.69" x2="924.5999999999999" y2="430.69"/>
<line x1="1559.80" y1="430.69" x2="1573.50" y2="430.69"/>
<line x1="938.3" y1="417.36" x2="931.5" y2="417.36"/>
<line x1="1559.80" y1="417.36" x2="1566.60" y2="417.36"/>
<line x1="938.3" y1="404.04" x2="931.5" y2="404.04"/>
<line x1="1559.80" y1="404.04" x2="1566.60" y2="404.04"/>
<line x1="938.3" y1="390.72" x2="931.5" y2="390.72"/>
<line x1="1559.80" y1="390.72" x2="1566.60" y2="390.72"/>
<line x1="938.3" y1="377.39" x2="931.5" y2="377.39"/>
<line x1="1559.80" y1="377.39" x2="1566.60" y2="377.39"/>
<line x1="938.3" y1="364.07" x2="924.5999999999999" y2="364.07"/>
<line x1="1559.80" y1="364.07" x2="1573.50" y2="364.07"/>
<line x1="938.3" y1="350.75" x2="931.5" y2="350.75"/>
<line x1="1559.80" y1="350.75" x2="1566.60" y2="350.75"/>
<line x1="938.3" y1="337.43" x2="931.5" y2="337.43"/>
<line x1="1559.80" y1="337.43" x2="1566.60" y2="337.43"/>
<line x1="938.3" y1="324.10" x2="931.5" y2="324.10"/>
<line x1="1559.80" y1="324.10" x2="1566.60" y2="324.10"/>
<line x1="938.3" y1="310.78" x2="931.5" y2="310.78"/>
<line x1="1559.80" y1="310.78" x2="1566.60" y2="310.78"/>
<line x1="938.3" y1="297.46" x2="924.5999999999999" y2="297.46"/>
<line x1="1559.80" y1="297.46" x2="1573.50" y2="297.46"/>
<line x1="938.3" y1="284.13" x2="931.5" y2="284.13"/>
<line x1="1559.80" y1="284.13" x2="1566.60" y2="284.13"/>
<line x1="938.3" y1="270.81" x2="931.5" y2="270.81"/>
<line x1="1559.80" y1="270.81" x2="1566.60" y2="270.81"/>
<line x1="938.3" y1="257.49" x2="931.5" y2="257.49"/>
<line x1="1559.80" y1="257.49" x2="1566.60" y2="257.49"/>
<line x1="938.3" y1="244.17" x2="931.5" y2="244.17"/>
<line x1="1559.80" y1="244.17" x2="1566.60" y2="244.17"/>
<line x1="938.3" y1="230.84" x2="924.5999999999999" y2="230.84"/>
<line x1="1559.80" y1="230.84" x2="1573.50" y2="230.84"/>
<line x1="938.3" y1="217.52" x2="931.5" y2="217.52"/>
<line x1="1559.80" y1="217.52" x2="1566.60" y2="217.52"/>
<line x1="938.3" y1="204.20" x2="931.5" y2="204.20"/>
<line x1="1559.80" y1="204.20" x2="1566.60" y2="204.20"/>
<line x1="938.3" y1="190.87" x2="931.5" y2="190.87"/>
<line x1="1559.80" y1="190.87" x2="1566.60" y2="190.87"/>
<line x1="938.3" y1="177.55" x2="931.5" y2="177.55"/>
<line x1="1559.80" y1="177.55" x2="1566.60" y2="177.55"/>
<line x1="938.3" y1="164.23" x2="924.5999999999999" y2="164.23"/>
<line x1="1559.80" y1="164.23" x2="1573.50" y2="164.23"/>
<line x1="938.3" y1="150.91" x2="931.5" y2="150.91"/>
<line x1="1559.80" y1="150.91" x2="1566.60" y2="150.91"/>
<line x1="938.3" y1="137.58" x2="931.5" y2="137.58"/>
<line x1="1559.80" y1="137.58" x2="1566.60" y2="137.58"/>
<line x1="938.3" y1="124.26" x2="931.5" y2="124.26"/>
<line x1="1559.80" y1="124.26" x2="1566.60" y2="124.26"/>
<line x1="938.3" y1="110.94" x2="931.5" y2="110.94"/>
<line x1="1559.80" y1="110.94" x2="1566.60" y2="110.94"/>
<line x1="938.3" y1="97.61" x2="924.5999999999999" y2="97.61"/>
<line x1="1559.80" y1="97.61" x2="1573.50" y2="97.61"/>
<line x1="938.3" y1="84.29" x2="931.5" y2="84.29"/>
<line x1="1559.80" y1="84.29" x2="1566.60" y2="84.29"/>
<line x1="938.3" y1="70.97" x2="931.5" y2="70.97"/>
<line x1="1559.80" y1="70.97" x2="1566.60" y2="70.97"/>
<line x1="938.3" y1="57.65" x2="931.5" y2="57.65"/>
<line x1="1559.80" y1="57.65" x2="1566.60" y2="57.65"/>
<line x1="938.3" y1="44.32" x2="931.5" y2="44.32"/>
<line x1="1559.80" y1="44.32" x2="1566.60" y2="44.32"/>
<line x1="938.3" y1="31.00" x2="924.5999999999999" y2="31.00"/>
<line x1="1559.80" y1="31.00" x2="1573.50" y2="31.00"/>
</g>
<text x="893.71" y="506.30" font-size="25.5" text-anchor="start">0</text>
<text x="865.35" y="439.69" font-size="25.5" text-anchor="start">500</text>
<text x="851.17" y="373.07" font-size="25.5" text-anchor="start">1000</text>
<text x="851.17" y="306.46" font-size="25.5" text-anchor="start">1500</text>
<text x="851.17" y="239.84" font-size="25.5" text-anchor="start">2000</text>
<text x="851.17" y="173.23" font-size="25.5" text-anchor="start">2500</text>
<text x="851.17" y="106.61" font-size="25.5" text-anchor="start">3000</text>
<text x="851.17" y="40.00" font-size="25.5" text-anchor="start">3500</text>
<text x="931.21" y="547.10" font-size="25.5" text-anchor="start">0</text>
<text x="1027.23" y="547.10" font-size="25.5" text-anchor="start">10</text>
<text x="1131.14" y="547.10" font-size="25.5" text-anchor="start">20</text>
<text x="1234.88" y="547.10" font-size="25.5" text-anchor="start">30</text>
<text x="1338.66" y="547.10" font-size="25.5" text-anchor="start">40</text>
<text x="1442.02" y="547.10" font-size="25.5" text-anchor="start">50</text>
<text x="1545.47" y="547.10" font-size="25.5" text-anchor="start">60</text>
<text x="1172.56" y="584.90" font-size="28.5" text-anchor="start">Time</text>
<text x="1244.73" y="584.90" font-size="28.5" text-anchor="start">(</text>
<text x="1257.72" y="584.90" font-size="28.5" text-anchor="start">h</text>
<text x="1276.08" y="584.90" font-size="28.5" text-anchor="start">)</text>
<text transform="translate(1484.15,73.80) scale(1.055,1)" font-size="35.6" text-anchor="start" class="sr">(b)</text>
<g transform="translate(800,0) rotate(-90)">
<text transform="translate(-335.31,36.00) scale(0.83,1)" font-size="35.8" text-anchor="start" font-style="italic">DTE</text>
<text x="-263.50" y="32.70" font-size="29" text-anchor="start">(</text>
<text transform="translate(-254.25,32.70) scale(0.96,1)" font-size="29" text-anchor="start">m</text>
<text x="-231.91" y="19.00" font-size="18" text-anchor="start">2</text>
<text transform="translate(-212.98,32.70) scale(0.97,1)" font-size="29" text-anchor="start">s</text>
<text x="-194.01" y="19.00" font-size="18" text-anchor="start">2</text>
<text x="-182.77" y="32.70" font-size="29" text-anchor="start">)</text>
</g>
<g transform="translate(800,0)"><circle cx="23.5" cy="219.3" r="2.5" fill="#000"/><rect x="12.6" y="193.7" width="2.2" height="4.2" fill="#000"/></g>
<rect x="969.5" y="39.8" width="124.8" height="122.6" fill="#fff" stroke="#8c8c8c" stroke-width="1.3"/>
<line x1="972.2" y1="52.8" x2="1013.2" y2="52.8" stroke="#a020f0" stroke-width="2.5"/>
<text transform="translate(1016.03,58.60) scale(1.03,1)" font-size="16.2" text-anchor="start" style="stroke-width:0.15px">100 hPa</text>
<line x1="972.2" y1="72.0" x2="1013.2" y2="72.0" stroke="#0000ff" stroke-width="2.5"/>
<text transform="translate(1016.46,77.85) scale(1.03,1)" font-size="16.2" text-anchor="start" style="stroke-width:0.15px">200 hPa</text>
<line x1="972.2" y1="91.3" x2="1013.2" y2="91.3" stroke="#006400" stroke-width="2.5"/>
<text transform="translate(1016.63,97.10) scale(1.03,1)" font-size="16.2" text-anchor="start" style="stroke-width:0.15px">500 hPa</text>
<line x1="972.2" y1="110.5" x2="1013.2" y2="110.5" stroke="#ffa500" stroke-width="2.5"/>
<text transform="translate(1016.44,116.35) scale(1.03,1)" font-size="16.2" text-anchor="start" style="stroke-width:0.15px">700 hPa</text>
<line x1="972.2" y1="129.8" x2="1013.2" y2="129.8" stroke="#ff0000" stroke-width="2.5"/>
<text transform="translate(1016.57,135.60) scale(1.03,1)" font-size="16.2" text-anchor="start" style="stroke-width:0.15px">850 hPa</text>
<line x1="972.2" y1="149.1" x2="1013.2" y2="149.1" stroke="#000000" stroke-width="2.5"/>
<text transform="translate(1016.03,154.85) scale(1.03,1)" font-size="16.2" text-anchor="start" style="stroke-width:0.15px">1000 hPa</text>
</svg></body></html>
